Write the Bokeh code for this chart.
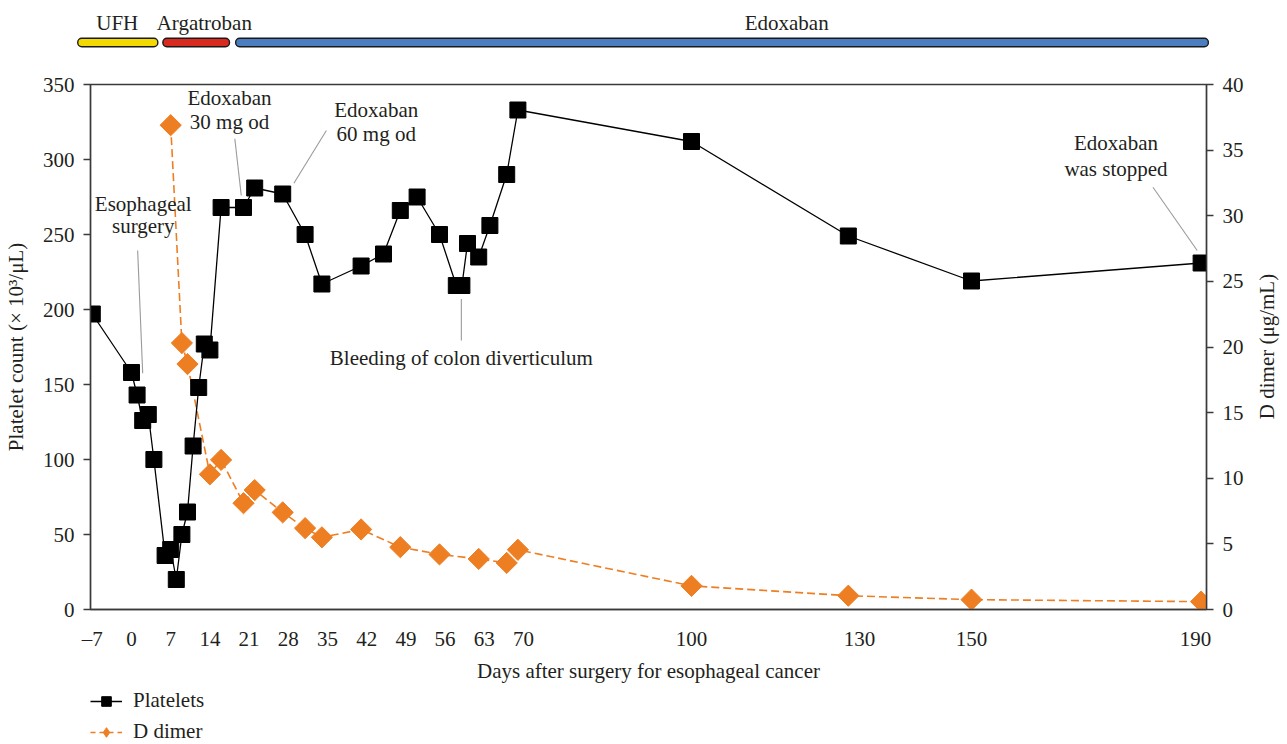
import math
from bokeh.plotting import figure
from bokeh.models import Range1d, LinearAxis, FixedTicker, Legend, LegendItem
from bokeh.layouts import column, row
from bokeh.embed import file_html
from bokeh.resources import INLINE
from bokeh.core.properties import value

# ---------------- data ----------------
platelet_days = [-7, 0, 1, 2, 3, 4, 6, 7, 8, 9, 10, 11, 12, 13, 14, 16, 20, 22, 27, 31, 34,
                 41, 45, 48, 51, 55, 58, 59, 60, 62, 64, 67, 69, 100, 128, 150, 191]
platelet_counts = [197, 158, 143, 126, 130, 100, 36, 40, 20, 50, 65, 109, 148, 177, 173, 268, 268, 281, 277, 250, 217,
                   229, 237, 266, 275, 250, 216, 216, 244, 235, 256, 290, 333, 312, 249, 219, 231]

ddimer_days = [7, 9, 10, 14, 16, 20, 22, 27, 31, 34, 41, 48, 55, 62, 67, 69, 100, 128, 150, 191]
ddimer_values = [36.9, 20.3, 18.7, 10.3, 11.4, 8.1, 9.1, 7.4, 6.2, 5.5, 6.1, 4.75, 4.2, 3.85, 3.55, 4.55,
                 1.8, 1.05, 0.75, 0.6]

x_ticks = [-7, 0, 7, 14, 21, 28, 35, 42, 49, 56, 63, 70, 100, 130, 150, 190]
x_tick_labels = ["\u20137", "0", "7", "14", "21", "28", "35", "42", "49", "56", "63", "70",
                 "100", "130", "150", "190"]
left_ticks = [0, 50, 100, 150, 200, 250, 300, 350]
right_ticks = [0, 5, 10, 15, 20, 25, 30, 35, 40]

drug_names = ["UFH", "Argatroban", "Edoxaban"]
drug_start_day = [-9.6, 5.6, 18.6]
drug_end_day = [4.7, 17.5, 192.3]
drug_label_day = [-2.55, 13.0, 117.0]
drug_colors = ["#F4D900", "#D82A1E", "#4A7EC0"]

annot_text = ["Esophageal", "surgery", "Edoxaban", "30 mg od", "Edoxaban", "60 mg od",
              "Bleeding of colon diverticulum", "Edoxaban", "was stopped"]
annot_day = [2.1, 2.1, 17.5, 17.5, 43.7, 43.7, 58.9, 175.8, 175.8]
annot_val = [270.5, 256, 341.3, 324.7, 333.3, 317.3, 168, 311.3, 294]

leader_day0 = [1.1, 18.45, 34.8, 58.9, 182.4]
leader_val0 = [239.3, 313.8, 319.3, 207, 281.5]
leader_day1 = [2.0, 19.6, 29.0, 58.9, 190.3]
leader_val1 = [157.5, 276, 284.2, 179.3, 239.3]

series_names = ["Platelets", "D dimer"]
x_title = "Days after surgery for esophageal cancer"
left_title = "Platelet count (\u00d7 10\u00b3/\u03bcL)"
right_title = "D dimer (\u03bcg/mL)"

# ---------------- style ----------------
FONT = "Liberation Serif"
FS = "21px"
TXT = "#231f20"
AX = "#3a3a3a"
ORANGE = "#EE7E22"
W = 1287
MAIN_W = 1250
MAIN_H = 628


def no_align(fig):
    if "frame_align" in fig.properties():
        fig.frame_align = False


def bare(fig):
    no_align(fig)
    fig.xgrid.visible = False
    fig.ygrid.visible = False


def draw_series(fig, dd_marker="square", dd_angle=math.pi / 4, dd_dash="8 4", with_ranges=True):
    kw = {"y_range_name": "dd"} if with_ranges else {}
    ddl = fig.line(ddimer_days, ddimer_values, line_color=ORANGE, line_width=1.6,
                   line_dash=dd_dash, **kw)
    ddp = fig.scatter(ddimer_days, ddimer_values, marker=dd_marker, angle=dd_angle, size=15,
                      fill_color=ORANGE, line_color=ORANGE, **kw)
    pll = fig.line(platelet_days, platelet_counts, line_color="#000000", line_width=1.3)
    plp = fig.scatter(platelet_days, platelet_counts, marker="square", size=16,
                      fill_color="#000000", line_color="#000000")
    return pll, plp, ddl, ddp


# ---------------- timeline strip ----------------
t = figure(width=W, height=58, x_range=Range1d(-12.68, 198.04), y_range=Range1d(0, 58),
           output_backend="svg", toolbar_location=None, x_axis_location=None, y_axis_location=None,
           min_border_left=60, min_border_right=47, min_border_top=0, min_border_bottom=0,
           outline_line_color=None)
bare(t)
t.hbar(y=16, left=drug_start_day, right=drug_end_day, height=8.5, fill_color=drug_colors,
       line_color="#1a1a1a", line_width=1.4, border_radius=4)
t.text(x=drug_label_day, y=36, text=drug_names, text_font=value(FONT), text_font_size=FS,
       text_align="center", text_baseline="middle", text_color=TXT)

# ---------------- main chart ----------------
p = figure(width=MAIN_W, height=MAIN_H, x_range=Range1d(-7.32, 191.96), y_range=Range1d(0, 350),
           output_backend="svg", toolbar_location=None,
           min_border_left=90, min_border_right=44, min_border_top=26, min_border_bottom=77)
bare(p)
p.extra_y_ranges = {"dd": Range1d(0, 40)}
p.outline_line_color = AX
p.outline_line_width = 1.4

xa = p.xaxis[0]
xa.ticker = FixedTicker(ticks=x_ticks)
xa.major_label_overrides = dict(zip(x_ticks, x_tick_labels))
xa.axis_label = x_title

ya = p.yaxis[0]
ya.ticker = FixedTicker(ticks=left_ticks)
ya.axis_label = left_title

yr = LinearAxis(y_range_name="dd", ticker=FixedTicker(ticks=right_ticks))
p.add_layout(yr, "right")

for ax in (xa, ya, yr):
    ax.axis_line_color = AX
    ax.axis_line_width = 1.4
    ax.major_tick_line_color = AX
    ax.major_tick_line_width = 1.4
    ax.minor_tick_line_color = None
    ax.major_tick_in = 0
    ax.major_tick_out = 7
    ax.major_label_text_font = FONT
    ax.major_label_text_font_size = FS
    ax.major_label_text_color = TXT
    ax.axis_label_text_font = FONT
    ax.axis_label_text_font_size = FS
    ax.axis_label_text_font_style = "normal"
    ax.axis_label_text_color = TXT
    ax.major_label_standoff = 9
    ax.axis_label_standoff = 10

xa.major_tick_out = 0
xa.major_label_standoff = 17
xa.axis_label_standoff = 5
ya.axis_label_standoff = 12

# leader lines
p.segment(x0=leader_day0, y0=leader_val0, x1=leader_day1, y1=leader_val1,
          line_color="#9a9a9a", line_width=1.1)

# series (D dimer behind platelets)
draw_series(p)

# annotations
p.text(x=annot_day, y=annot_val, text=annot_text, text_font=value(FONT), text_font_size=FS,
       text_align="center", text_baseline="middle", text_color=TXT)

# ---------------- right-axis title strip (reads bottom to top) ----------------
rt = figure(width=W - MAIN_W, height=MAIN_H, x_range=Range1d(0, W - MAIN_W), y_range=Range1d(0, MAIN_H),
            output_backend="svg", toolbar_location=None, x_axis_location=None, y_axis_location=None,
            min_border_left=0, min_border_right=0, min_border_top=0, min_border_bottom=0,
            outline_line_color=None)
bare(rt)
rt.text(x=[16], y=[340], text=[right_title], angle=math.pi / 2, text_font=value(FONT),
        text_font_size=FS, text_align="center", text_baseline="middle", text_color=TXT)

# ---------------- legend strip (below the chart) ----------------
# same series drawn again, scrolled out of view, only to feed the legend glyphs
lg = figure(width=W, height=58, x_range=Range1d(-1000, -999), y_range=Range1d(-1000, -999),
            output_backend="svg", toolbar_location=None, x_axis_location=None, y_axis_location=None,
            min_border_left=90, min_border_right=0, min_border_top=0, min_border_bottom=0,
            outline_line_color=None)
bare(lg)
lg_pll, lg_plp, lg_ddl, lg_ddp = draw_series(lg, dd_marker="diamond", dd_angle=0, dd_dash="5 4",
                                             with_ranges=False)

legend = Legend(items=[LegendItem(label=series_names[0], renderers=[lg_pll, lg_plp]),
                       LegendItem(label=series_names[1], renderers=[lg_ddl, lg_ddp])],
                location=(0, 0), orientation="vertical", margin=0, padding=0, spacing=6,
                glyph_width=32, glyph_height=24, label_standoff=11,
                border_line_color=None, background_fill_alpha=0,
                label_text_font=FONT, label_text_font_size=FS, label_text_color=TXT)
lg.add_layout(legend, "center")

layout = column(t, row(p, rt, spacing=0), lg, spacing=0)
open("out.html", "w").write(file_html(layout, INLINE))
